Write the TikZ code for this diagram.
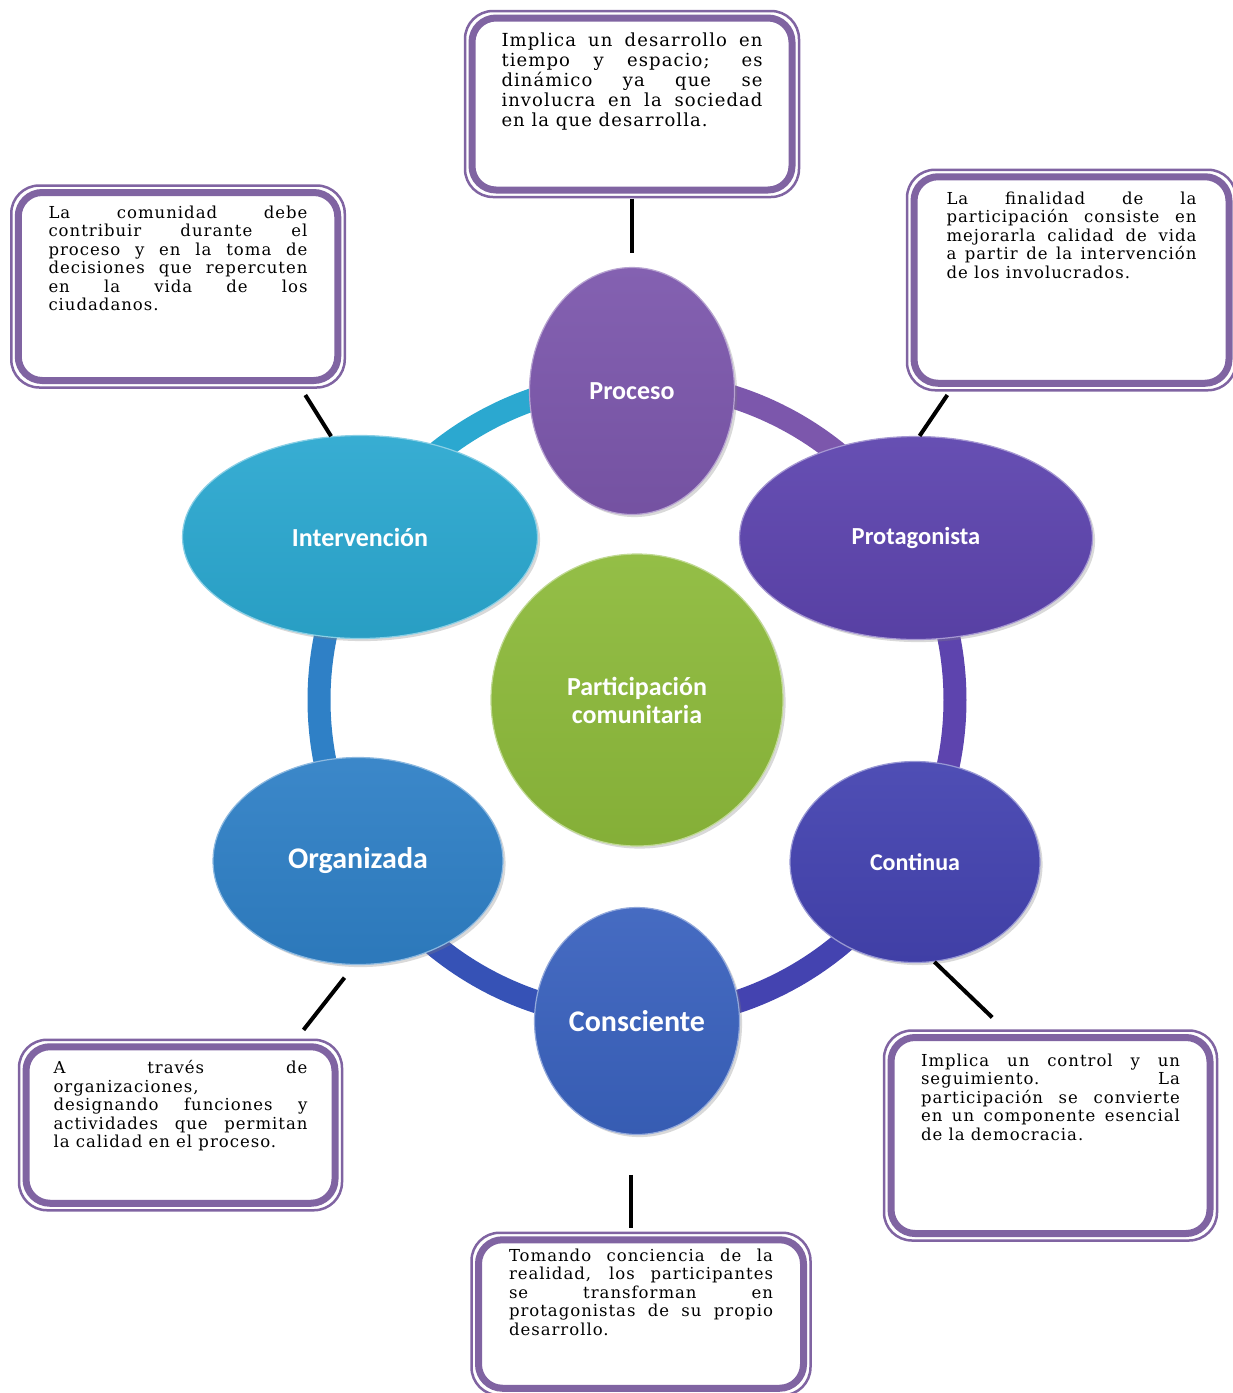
\documentclass[tikz,border=0pt]{standalone}
\usepackage{fontspec}
\setmainfont{DejaVu Serif}
\newfontfamily\notefont[LetterSpace=6]{DejaVu Serif}
\newfontfamily\bubblefont{Carlito}
\usetikzlibrary{shapes.geometric,shadows}

\definecolor{marco}{HTML}{8064A2}
\definecolor{cproc}{HTML}{7C57AC}
\definecolor{cprot}{HTML}{5D44AE}
\definecolor{ccont}{HTML}{4443B0}
\definecolor{ccons}{HTML}{3A62BE}
\definecolor{corg}{HTML}{2F80C6}
\definecolor{cint}{HTML}{2BA8D0}
\definecolor{ccentro}{HTML}{8DBA3B}
\definecolor{cbase}{HTML}{3652B6}

% texto justificado de los cuadros
\newcommand{\nota}[3]{\parbox[t][#2][t]{#1}{\notefont\fontsize{16.5}{18.5}\selectfont
  \tolerance=10000 \hyphenpenalty=10000 #3}}

\tikzset{
  bubble/.style={ellipse, draw=#1!55!white, line width=1.2pt, top color=#1!94!white,
    bottom color=#1!94!black, drop shadow={opacity=0.3}, text=white, inner sep=0pt,
    align=center},
  lblsize/.style={font=\bubblefont\bfseries\fontsize{#1}{28}\selectfont},
  ring/.style={line width=23pt, draw=#1},
  nota/.style={draw=marco, line width=7pt, rounded corners=24pt, fill=white,
    inner xsep=0pt, inner ysep=14pt},
  frame/.style={draw=marco, line width=2.5pt, rounded corners=28pt},
  link/.style={line width=4pt, black},
}

\begin{document}
\begin{tikzpicture}[x=1pt,y=-1pt]
\useasboundingbox (0,0) rectangle (1233,1393);

% anillo
\coordinate (hub) at (637,700);
\foreach \a/\b/\c in {-90/-30/cproc,-30/30/cprot,30/90/ccont,90/150/cbase,150/210/corg,210/270/cint}
  \draw[ring=\c] (hub) ++(\a:318) arc[start angle=\a, end angle=\b, radius=318];

% burbujas
\node[bubble=ccentro, lblsize=26, minimum width=292pt, minimum height=292pt] (centro) at (637,700)
  {Participación\\comunitaria};
\node[bubble=cproc, lblsize=26, minimum width=205pt, minimum height=247pt] (proceso) at (632,391)
  {Proceso};
\node[bubble=cprot, lblsize=24.5, minimum width=353pt, minimum height=203pt] (protagonista) at (916,538)
  {Protagonista};
\node[bubble=ccont, lblsize=24, minimum width=250pt, minimum height=201pt] (continua) at (915,862)
  {Continua};
\node[bubble=ccons, lblsize=30, minimum width=205pt, minimum height=227pt] (consciente) at (637,1021)
  {Consciente};
\node[bubble=corg, lblsize=30, minimum width=290pt, minimum height=207pt] (organizada) at (358,861)
  {Organizada};
\node[bubble=cint, lblsize=26, minimum width=355pt, minimum height=203pt] (intervencion) at (360,537)
  {Intervención};

% cuadros
\node[nota, minimum width=320pt, inner ysep=15pt] (boxproc) at (632,104)
  {\nota{261pt}{142pt}{\fontsize{18}{20}\selectfont Implica un desarrollo en\linebreak
   tiempo y espacio; es\linebreak dinámico ya que se\linebreak
   involucra en la sociedad\linebreak en la que desarrolla.}};
\node[nota, minimum width=319.5pt, inner ysep=13pt] (boxint) at (178,286.5)
  {\nota{259pt}{162pt}{La comunidad debe\linebreak contribuir durante el\linebreak
   proceso y en la toma de\linebreak decisiones que repercuten\linebreak
   en la vida de los\linebreak ciudadanos.}};
\node[nota, minimum width=315pt, inner ysep=15pt] (boxprot) at (1071.5,280)
  {\nota{250pt}{176.5pt}{La finalidad de la\linebreak participación consiste en\linebreak
   mejorarla calidad de vida\linebreak a partir de la intervención\linebreak
   de los involucrados.}};
\node[nota, minimum width=309pt, inner ysep=14pt] (boxorg) at (180.5,1125)
  {\nota{254pt}{128.5pt}{A través de\linebreak organizaciones,\newline
   designando funciones y\linebreak actividades que permitan\linebreak
   la calidad en el proceso.}};
\node[nota, minimum width=319pt, inner ysep=16pt] (boxcont) at (1050.5,1135.5)
  {\nota{259pt}{164pt}{Implica un control y un\linebreak seguimiento. La\linebreak
   participación se convierte\linebreak en un componente esencial\linebreak
   de la democracia.}};
\node[nota, minimum width=325pt, inner ysep=9pt] (boxcons) at (641,1314)
  {\nota{264pt}{130.5pt}{Tomando conciencia de la\linebreak realidad, los participantes\linebreak
   se transforman en\linebreak protagonistas de su propio\linebreak desarrollo.}};

\foreach \b in {boxproc,boxint,boxprot,boxorg,boxcont,boxcons}
  \draw[frame] ([shift={(-3.5pt,3.5pt)}]\b.north west) rectangle ([shift={(3.5pt,-3.5pt)}]\b.south east);

% conectores
\draw[link, shorten <=5pt, shorten >=14pt] (proceso.north |- boxproc.south) -- (proceso.north);
\draw[link, shorten <=13pt] (boxint.-39) -- (intervencion.106);
\draw[link, shorten <=10pt] (boxprot.-138) -- (protagonista.88);
\draw[link, shorten <=16pt, shorten >=17pt] (organizada.-92) -- (boxorg.36);
\draw[link, shorten >=24pt] (continua.-79) -- (boxcont.112);
\draw[link, shorten <=40pt, shorten >=8pt] (consciente.-93) -- (consciente.-93 |- boxcons.north);
\end{tikzpicture}
\end{document}
